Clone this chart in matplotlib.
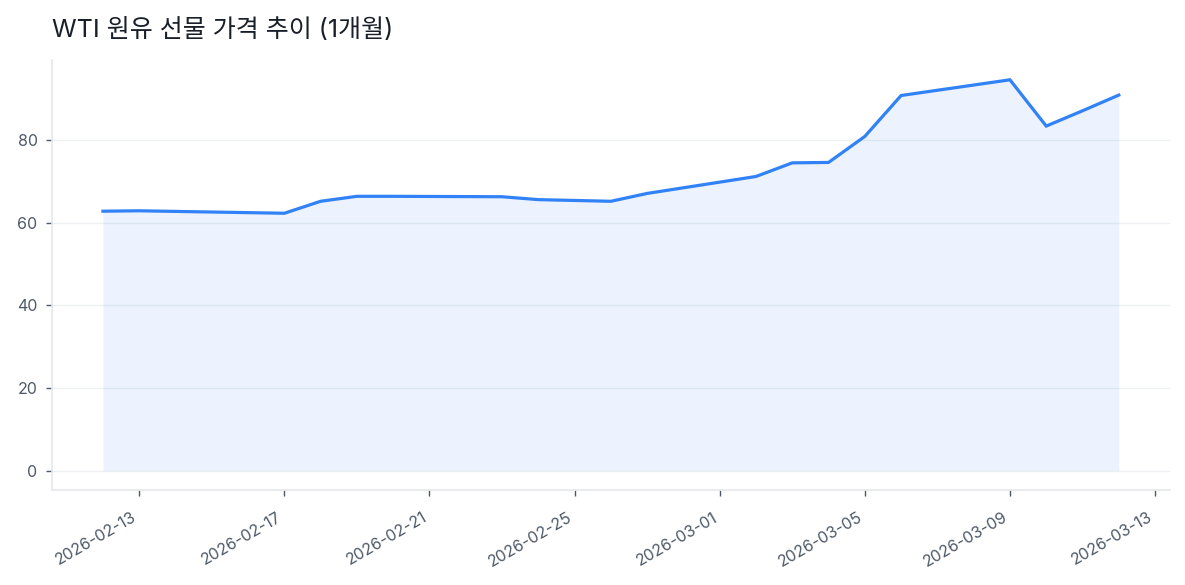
import matplotlib
matplotlib.use("Agg")
import matplotlib.pyplot as plt
import pandas as pd

dates = ["2026-02-12", "2026-02-13", "2026-02-17", "2026-02-18", "2026-02-19",
         "2026-02-20", "2026-02-23", "2026-02-24", "2026-02-25", "2026-02-26",
         "2026-02-27", "2026-03-02", "2026-03-03", "2026-03-04", "2026-03-05",
         "2026-03-06", "2026-03-09", "2026-03-10", "2026-03-11", "2026-03-12"]
prices = [62.8, 62.9, 62.3, 65.2, 66.4,
          66.4, 66.3, 65.6, 65.4, 65.2,
          67.1, 71.2, 74.5, 74.6, 80.9,
          90.8, 94.6, 83.4, 87.1, 90.9]
tick_dates = ["2026-02-13", "2026-02-17", "2026-02-21", "2026-02-25",
              "2026-03-01", "2026-03-05", "2026-03-09", "2026-03-13"]
y_ticks = [0, 20, 40, 60, 80]
title = "WTI 원유 선물 가격 추이 (1개월)"

plt.rcParams['font.family'] = ['Inter', 'Noto Sans CJK KR', 'DejaVu Sans']

x = pd.to_datetime(dates)
xt = pd.to_datetime(tick_dates)

fig = plt.figure(figsize=(11.85, 5.85), dpi=100)
ax = fig.add_axes([0.044, 0.162, 0.943, 0.735])

blue = "#3182f6"
ax.plot(x, prices, color=blue, lw=2.3, solid_joinstyle="miter")
ax.fill_between(x, prices, 0, color=blue, alpha=0.09, lw=0)

ax.set_xticks(xt)
ax.set_xticklabels(tick_dates)
ax.set_yticks(y_ticks)
for lab in ax.get_xticklabels():
    lab.set_rotation(30)
    lab.set_ha("right")

ax.grid(axis="y", color="#eef0f3", lw=1)
ax.set_axisbelow(True)
for s in ["top", "right"]:
    ax.spines[s].set_visible(False)
for s in ["left", "bottom"]:
    ax.spines[s].set_color("#e5e8eb")
    ax.spines[s].set_linewidth(1.2)
ax.tick_params(axis="both", colors="#4e5968", labelsize=11.5, length=4, width=1)
ax.tick_params(axis="x", pad=10)
ax.tick_params(axis="y", pad=6.5)

ax.set_title(title, loc="left", fontsize=18, color="#191f28", pad=17)

fig.savefig("out.png", dpi=100, facecolor="white")
